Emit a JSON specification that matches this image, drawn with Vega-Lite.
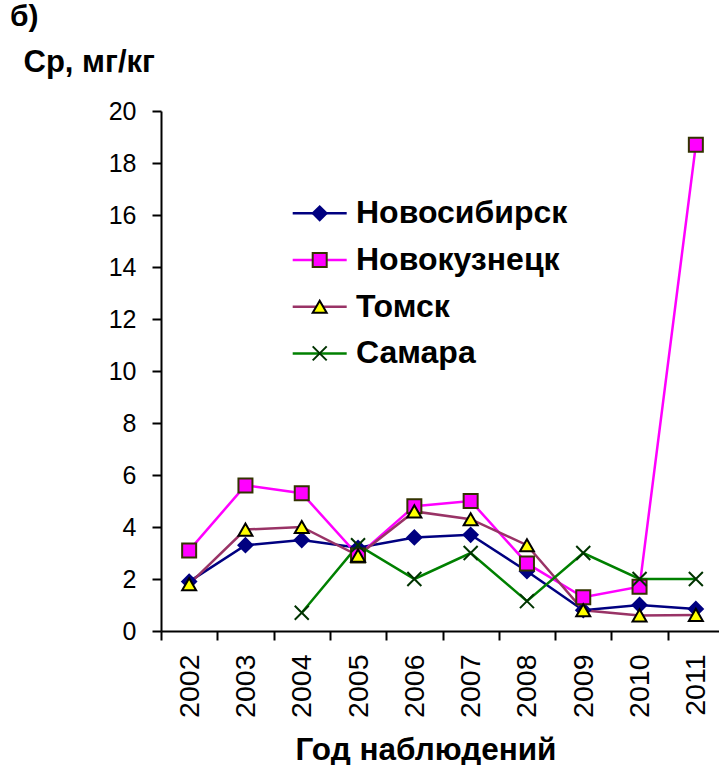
{
  "$schema": "https://vega.github.io/schema/vega-lite/v6.json",
  "autosize": {"type": "none"},
  "width": 558,
  "height": 520,
  "padding": {"left": 161, "top": 111, "right": 0, "bottom": 134},
  "background": "white",
  "title": {
    "text": "б)",
    "anchor": "start",
    "frame": "group",
    "align": "left",
    "baseline": "alphabetic",
    "offset": 0,
    "dx": -151,
    "dy": 10,
    "font": "Liberation Sans",
    "fontSize": 30,
    "fontWeight": "bold",
    "color": "black"
  },
  "data": {
    "values": [
      {"year": "2002", "city": "Новосибирск", "value": 1.9},
      {"year": "2003", "city": "Новосибирск", "value": 3.3},
      {"year": "2004", "city": "Новосибирск", "value": 3.5},
      {"year": "2005", "city": "Новосибирск", "value": 3.2},
      {"year": "2006", "city": "Новосибирск", "value": 3.6},
      {"year": "2007", "city": "Новосибирск", "value": 3.7},
      {"year": "2008", "city": "Новосибирск", "value": 2.3},
      {"year": "2009", "city": "Новосибирск", "value": 0.8},
      {"year": "2010", "city": "Новосибирск", "value": 1.0},
      {"year": "2011", "city": "Новосибирск", "value": 0.85},
      {"year": "2002", "city": "Новокузнецк", "value": 3.1},
      {"year": "2003", "city": "Новокузнецк", "value": 5.6},
      {"year": "2004", "city": "Новокузнецк", "value": 5.3},
      {"year": "2005", "city": "Новокузнецк", "value": 2.9},
      {"year": "2006", "city": "Новокузнецк", "value": 4.8},
      {"year": "2007", "city": "Новокузнецк", "value": 5.0},
      {"year": "2008", "city": "Новокузнецк", "value": 2.6},
      {"year": "2009", "city": "Новокузнецк", "value": 1.3},
      {"year": "2010", "city": "Новокузнецк", "value": 1.7},
      {"year": "2011", "city": "Новокузнецк", "value": 18.7},
      {"year": "2002", "city": "Томск", "value": 1.8},
      {"year": "2003", "city": "Томск", "value": 3.9},
      {"year": "2004", "city": "Томск", "value": 4.0},
      {"year": "2005", "city": "Томск", "value": 2.9},
      {"year": "2006", "city": "Томск", "value": 4.6},
      {"year": "2007", "city": "Томск", "value": 4.3},
      {"year": "2008", "city": "Томск", "value": 3.3},
      {"year": "2009", "city": "Томск", "value": 0.8},
      {"year": "2010", "city": "Томск", "value": 0.6},
      {"year": "2011", "city": "Томск", "value": 0.62},
      {"year": "2004", "city": "Самара", "value": 0.7},
      {"year": "2005", "city": "Самара", "value": 3.3},
      {"year": "2006", "city": "Самара", "value": 2.0},
      {"year": "2007", "city": "Самара", "value": 3.0},
      {"year": "2008", "city": "Самара", "value": 1.15},
      {"year": "2009", "city": "Самара", "value": 3.0},
      {"year": "2010", "city": "Самара", "value": 2.0},
      {"year": "2011", "city": "Самара", "value": 2.0}
    ]
  },
  "encoding": {
    "x": {
      "field": "year",
      "type": "ordinal",
      "scale": {"type": "band", "paddingInner": 0, "paddingOuter": 0, "range": [0, 563]},
      "axis": {
        "title": "Год наблюдений",
        "titleX": 264.5,
        "titleY": 128,
        "titleAlign": "center",
        "titleBaseline": "alphabetic",
        "titleFont": "Liberation Sans",
        "titleFontSize": 31.5,
        "titleFontWeight": "bold",
        "titleColor": "black",
        "labelAngle": -90,
        "labelAlign": "right",
        "labelBaseline": "middle",
        "labelFont": "Liberation Sans",
        "labelFontSize": 28.5,
        "labelColor": "black",
        "labelPadding": 14,
        "tickBand": "extent",
        "tickSize": 9,
        "tickWidth": 2,
        "tickColor": "black",
        "domainColor": "black",
        "domainWidth": 2,
        "grid": false
      }
    },
    "y": {
      "field": "value",
      "type": "quantitative",
      "scale": {"domain": [0, 20], "nice": false, "zero": true},
      "axis": {
        "title": "Ср, мг/кг",
        "titleAngle": 0,
        "titleX": -138,
        "titleY": -40,
        "titleAlign": "left",
        "titleBaseline": "alphabetic",
        "titleFont": "Liberation Sans",
        "titleFontSize": 31,
        "titleFontWeight": "bold",
        "titleColor": "black",
        "values": [0, 2, 4, 6, 8, 10, 12, 14, 16, 18, 20],
        "labelFont": "Liberation Sans",
        "labelFontSize": 25,
        "labelColor": "black",
        "labelPadding": 16,
        "tickSize": 9,
        "tickWidth": 2,
        "tickColor": "black",
        "domainColor": "black",
        "domainWidth": 2,
        "grid": false
      }
    }
  },
  "layer": [
    {
      "mark": {"type": "line", "strokeWidth": 2.5},
      "encoding": {
        "color": {
          "field": "city",
          "type": "nominal",
          "scale": {
            "domain": ["Новосибирск", "Новокузнецк", "Томск", "Самара"],
            "range": ["#000080", "#FF00FF", "#993366", "#008000"]
          },
          "legend": {
            "title": null,
            "orient": "none",
            "legendX": 142.7,
            "legendY": 86.3,
            "padding": 0,
            "symbolType": "M-3.857,0L3.857,0",
            "symbolSize": 196,
            "symbolStrokeWidth": 2.5,
            "labelFont": "Liberation Sans",
            "labelFontSize": 32,
            "labelFontWeight": "bold",
            "labelColor": "black",
            "labelLimit": 400,
            "labelOffset": 20.3,
            "rowPadding": 14.7
          }
        }
      }
    },
    {
      "transform": [{"calculate": "datum.city", "as": "series"}],
      "mark": {"type": "point", "filled": true, "opacity": 1, "size": 196, "strokeWidth": 2},
      "encoding": {
        "shape": {
          "field": "series",
          "type": "nominal",
          "sort": ["Новосибирск", "Новокузнецк", "Томск", "Самара"],
          "scale": {"range": ["diamond", "square", "triangle-up", "M-1,-1L1,1M-1,1L1,-1"]},
          "legend": {
            "title": null,
            "orient": "none",
            "legendX": 142.7,
            "legendY": 86.3,
            "padding": 0,
            "symbolSize": 196,
            "symbolStrokeWidth": 2,
            "symbolOpacity": 1,
            "symbolFillColor": {"expr": "scale('fill', datum.value)"},
            "symbolStrokeColor": {"expr": "scale('stroke', datum.value)"},
            "labelFont": "Liberation Sans",
            "labelFontSize": 32,
            "labelFontWeight": "bold",
            "labelColor": "transparent",
            "labelLimit": 400,
            "labelOffset": 20.3,
            "rowPadding": 14.7
          }
        },
        "fill": {
          "field": "series",
          "type": "nominal",
          "sort": ["Новосибирск", "Новокузнецк", "Томск", "Самара"],
          "scale": {"range": ["#000080", "#FF00FF", "#FFFF00", "transparent"]},
          "legend": null
        },
        "stroke": {
          "field": "series",
          "type": "nominal",
          "sort": ["Новосибирск", "Новокузнецк", "Томск", "Самара"],
          "scale": {"range": ["#000080", "#333300", "#000000", "#003300"]},
          "legend": null
        }
      }
    }
  ],
  "config": {
    "view": {"stroke": null},
    "font": "Liberation Sans"
  }
}
